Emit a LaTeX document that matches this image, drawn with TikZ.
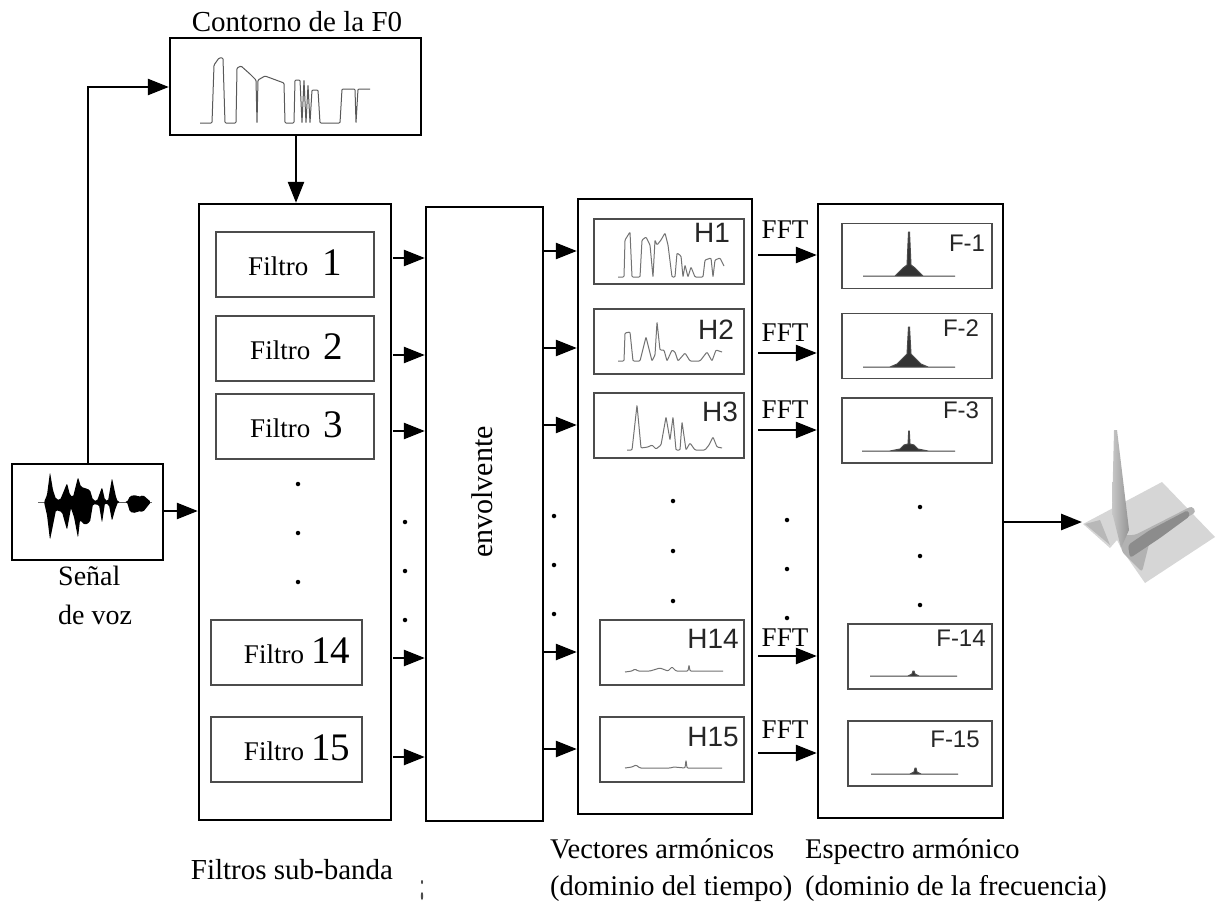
\documentclass[tikz,border=0pt]{standalone}
\usepackage{fontspec}
\setmainfont{Liberation Serif}
\newfontfamily\labelsans{Liberation Sans}
\usetikzlibrary{arrows.meta}
\newcommand{\bignum}[1]{{\fontsize{39}{39}\selectfont #1}}
\begin{document}
\begin{tikzpicture}[
        x=1pt, y=-1pt,
        block/.style={rectangle, draw, line width=2.4pt, inner sep=0pt, fill=white},
        inbox/.style={rectangle, draw=black!70, line width=1.9pt, inner sep=0pt, minimum height=65pt, font=\fontsize{27}{27}\selectfont},
        caption/.style={inner sep=0pt, font=\fontsize{29}{29}\selectfont},
        side/.style={inner sep=0pt, font=\labelsans\fontsize{28}{28}\selectfont, text=black!85},
        sidef/.style={inner sep=0pt, font=\labelsans\fontsize{24}{24}\selectfont, text=black!85},
        fft/.style={inner sep=0pt, font=\fontsize{27}{27}\selectfont},
        dotmark/.style={circle, fill=black, inner sep=0pt, minimum size=4.5pt},
        arrow/.style={-{Triangle[length=21pt,width=16pt]}, line width=2.6pt},
        signal/.style={draw=black!55, line width=1pt, rounded corners=1pt},
        spectrum/.style={draw=black!70, fill=black!80, line width=1pt}
    ]
        \useasboundingbox (0,0) rectangle (1217,907);

        \node[block, minimum width=251pt, minimum height=97pt] (contour) at (295.5,86.5) {};
        \node[block, minimum width=151pt, minimum height=96pt] (voice) at (87.5,512) {};
        \node[block, minimum width=192pt, minimum height=616pt] (bank) at (295,512) {};
        \node[block, minimum width=117pt, minimum height=614pt] (env) at (484.5,514) {};
        \node[block, minimum width=174pt, minimum height=615pt] (vectors) at (665,506.5) {};
        \node[block, minimum width=185pt, minimum height=614pt] (spectra) at (910.5,511) {};

        \node[caption] (contourlabel) at (297,22) {Contorno de la F0};
        \node[caption, align=left, anchor=north west, font=\fontsize{28}{39}\selectfont] (voicelabel) at (58,566) {Señal\\de voz};
        \node[caption, rotate=90, font=\fontsize{30}{30}\selectfont] (envlabel) at (482,492) {envolvente};
        \node[caption] (banklabel) at (292,870) {Filtros sub-banda};
        \node[caption, align=left, anchor=north west, font=\fontsize{28.5}{37}\selectfont] (vectorslabel) at (550,838) {Vectores armónicos\\(dominio del tiempo)};
        \node[caption, align=left, anchor=north west, font=\fontsize{28.5}{37}\selectfont] (spectralabel) at (805,838) {Espectro armónico\\(dominio de la frecuencia)};

        \node[inbox, minimum width=158pt] (f1) at (295,264.5) {\raisebox{3pt}{Filtro\hspace{14pt}\bignum{1}}};
        \node[inbox, minimum width=158pt] (f2) at (295,348.5) {\raisebox{3pt}{\hspace*{3pt}Filtro\hspace{13pt}\bignum{2}}};
        \node[inbox, minimum width=158pt] (f3) at (295,426.5) {\raisebox{3pt}{\hspace*{3pt}Filtro\hspace{13pt}\bignum{3}}};
        \node[inbox, minimum width=151pt] (f14) at (286.5,652.5) {\raisebox{3pt}{\hspace*{21pt}Filtro\hspace{7pt}\bignum{14}}};
        \node[inbox, minimum width=151pt] (f15) at (286.5,749.5) {\raisebox{3pt}{\hspace*{21pt}Filtro\hspace{7pt}\bignum{15}}};

        \node[inbox, minimum width=150pt] (h1) at (669,251.5) {};
        \node[inbox, minimum width=150pt] (h2) at (669,341.5) {};
        \node[inbox, minimum width=150pt] (h3) at (669,425.5) {};
        \node[inbox, minimum width=144pt] (h14) at (672,652.5) {};
        \node[inbox, minimum width=144pt] (h15) at (672,749.5) {};

        \node[inbox, minimum width=150pt] (s1) at (917,256) {};
        \node[inbox, minimum width=150pt] (s2) at (917,346) {};
        \node[inbox, minimum width=150pt] (s3) at (917,430.5) {};
        \node[inbox, minimum width=144pt] (s14) at (920,656.5) {};
        \node[inbox, minimum width=144pt] (s15) at (920,753.5) {};

        \node[side] (h1label) at (712,233) {H1};
        \node[side] (h2label) at (716,330) {H2};
        \node[side] (h3label) at (720,412) {H3};
        \node[side] (h14label) at (713,639) {H14};
        \node[side] (h15label) at (713,737) {H15};
        \node[sidef] (s1label) at (967,243) {F-1};
        \node[sidef] (s2label) at (961,328) {F-2};
        \node[sidef] (s3label) at (961,410) {F-3};
        \node[sidef] (s14label) at (961,638) {F-14};
        \node[sidef] (s15label) at (955,739) {F-15};

        \node[fft] (fft1) at (785,230) {FFT};
        \node[fft] (fft2) at (785,333) {FFT};
        \node[fft] (fft3) at (785,410) {FFT};
        \node[fft] (fft14) at (785,638) {FFT};
        \node[fft] (fft15) at (785,730) {FFT};

        \node[dotmark] (da1) at (298,484) {};
        \node[dotmark] (da2) at (298,533) {};
        \node[dotmark] (da3) at (298,582) {};
        \node[dotmark] (db1) at (405,522) {};
        \node[dotmark] (db2) at (405,571) {};
        \node[dotmark] (db3) at (405,620) {};
        \node[dotmark] (dc1) at (554,516) {};
        \node[dotmark] (dc2) at (554,565) {};
        \node[dotmark] (dc3) at (554,614) {};
        \node[dotmark] (dd1) at (673,501) {};
        \node[dotmark] (dd2) at (673,551) {};
        \node[dotmark] (dd3) at (673,601) {};
        \node[dotmark] (de1) at (787,520) {};
        \node[dotmark] (de2) at (787,569) {};
        \node[dotmark] (de3) at (787,618) {};
        \node[dotmark] (df1) at (920,507) {};
        \node[dotmark] (df2) at (920,556) {};
        \node[dotmark] (df3) at (920,605) {};

        \coordinate (voicetop) at (88,464);
        \coordinate (voiceturn) at (88,87);
        \coordinate (contourdrop) at (296,135);
        \coordinate (voiceout) at (163,511);
        \coordinate (surface) at (1082,522);
        \coordinate (spectraout) at (1003,522);
        \coordinate (b1) at (393,258);
        \coordinate (b2) at (393,355);
        \coordinate (b3) at (393,431);
        \coordinate (b14) at (393,658);
        \coordinate (b15) at (393,757);
        \coordinate (e1) at (543,251);
        \coordinate (e2) at (543,348);
        \coordinate (e3) at (543,425);
        \coordinate (e14) at (543,652);
        \coordinate (e15) at (543,749);
        \coordinate (v1) at (758,255);
        \coordinate (v2) at (758,353);
        \coordinate (v3) at (758,430);
        \coordinate (v14) at (758,656);
        \coordinate (v15) at (758,753);

        \draw[arrow] (voicetop) -- (voiceturn) -- (contour.west |- voiceturn);
        \draw[arrow] (contourdrop) -- (contourdrop |- bank.north);
        \draw[arrow] (voiceout) -- (voiceout -| bank.west);
        \draw[arrow] (spectraout) -- (surface);
        \draw[arrow] (b1) -- (b1 -| env.west);
        \draw[arrow] (b2) -- (b2 -| env.west);
        \draw[arrow] (b3) -- (b3 -| env.west);
        \draw[arrow] (b14) -- (b14 -| env.west);
        \draw[arrow] (b15) -- (b15 -| env.west);
        \draw[arrow] (e1) -- (e1 -| vectors.west);
        \draw[arrow] (e2) -- (e2 -| vectors.west);
        \draw[arrow] (e3) -- (e3 -| vectors.west);
        \draw[arrow] (e14) -- (e14 -| vectors.west);
        \draw[arrow] (e15) -- (e15 -| vectors.west);
        \draw[arrow] (v1) -- (v1 -| spectra.west);
        \draw[arrow] (v2) -- (v2 -| spectra.west);
        \draw[arrow] (v3) -- (v3 -| spectra.west);
        \draw[arrow] (v14) -- (v14 -| spectra.west);
        \draw[arrow] (v15) -- (v15 -| spectra.west);

        \draw[signal, black!65] (200,123) -- (212,123) -- (214,65) -- (219,58) -- (223,58) -- (225,123) -- (236,123) -- (237,68) -- (241,66) -- (250,74) -- (256,80) -- (257,123) -- (258,80) -- (265,76) -- (284,83) -- (285,123) -- (294,123) -- (295,80) -- (300,80) -- (302,123) -- (304,80) -- (306,123) -- (308,85) -- (310,123) -- (312,90) -- (318,90) -- (320,123) -- (340,123) -- (342,89) -- (355,89) -- (356,123) -- (358,89) -- (370,89);

        \draw[black!60, line width=0.8pt] (38,502) -- (152,502);
        \fill[black, rounded corners=1.5pt] (44,502) -- (47,495) -- (50,472) -- (53,490) -- (56,499) -- (60,500) -- (63,493) -- (67,483) -- (70,495) -- (73,497) -- (78,477) -- (81,487) -- (85,488) -- (90,490) -- (93,500) -- (97,501) -- (102,487) -- (105,500) -- (108,501) -- (112,478) -- (116,497) -- (118,502) -- (127,502) -- (130,496) -- (136,495) -- (139,497) -- (143,495) -- (151,502) -- (143,512) -- (138,511) -- (136,513) -- (130,512) -- (127,502) -- (118,502) -- (115,510) -- (112,521) -- (109,505) -- (105,503) -- (102,523) -- (99,505) -- (93,504) -- (90,522) -- (85,525) -- (80,520) -- (78,538) -- (74,517) -- (71,508) -- (67,530) -- (62,512) -- (56,510) -- (53,525) -- (50,540) -- (47,515) -- cycle;

        \draw[signal] (618,277) -- (624,277) -- (625,240) -- (630,232) -- (632,277) -- (640,277) -- (642,240) -- (646,237) -- (650,245) -- (653,277) -- (655,240) -- (657,245) -- (661,240) -- (665,233) -- (668,245) -- (672,277) -- (675,277) -- (677,253) -- (681,256) -- (683,277) -- (685,265) -- (688,277) -- (691,267) -- (695,277) -- (703,277) -- (705,260) -- (711,258) -- (713,277) -- (715,260) -- (720,258) -- (724,266);
        \draw[signal] (618,361) -- (624,361) -- (625,333) -- (630,332) -- (633,361) -- (640,361) -- (646,337) -- (652,361) -- (655,355) -- (657,322) -- (660,350) -- (664,350) -- (667,361) -- (672,350) -- (675,352) -- (678,361) -- (685,353) -- (690,361) -- (700,361) -- (707,352) -- (712,361) -- (716,350) -- (722,352);
        \draw[signal] (627,450) -- (632,450) -- (637,405) -- (641,448) -- (648,447) -- (652,445) -- (656,449) -- (661,445) -- (666,417) -- (670,440) -- (673,417) -- (676,450) -- (680,450) -- (682,422) -- (686,450) -- (690,443) -- (695,450) -- (705,450) -- (709,445) -- (713,437) -- (717,447) -- (722,448);
        \draw[signal] (625,672) -- (632,671) -- (635,669) -- (638,671) -- (650,671) -- (660,668) -- (668,671) -- (672,667) -- (676,671) -- (688,671) -- (689,665) -- (690,671) -- (723,671);
        \draw[signal] (625,768) -- (632,767) -- (636,765) -- (640,768) -- (670,768) -- (674,767) -- (685,768) -- (686,760) -- (687,768) -- (722,768);

        \draw[spectrum] (863,276) -- (895,276) -- (899,272) -- (903,268) -- (907,265) -- (908.5,232) -- (909.5,232) -- (911,265) -- (915,268) -- (919,272) -- (923,276) -- (955,276) -- cycle;
        \draw[spectrum] (863,367) -- (890,367) -- (897,364) -- (902,359) -- (907,354) -- (908.5,327) -- (909.5,327) -- (911,354) -- (916,359) -- (921,364) -- (928,367) -- (955,367) -- cycle;
        \draw[spectrum] (862,451) -- (890,451) -- (900,449) -- (904,445) -- (908,444) -- (908.7,431) -- (909.3,431) -- (910,444) -- (914,445) -- (918,449) -- (928,451) -- (955,451) -- cycle;
        \draw[spectrum] (870,676) -- (908,676) -- (912,674) -- (913,671) -- (914,671) -- (915,674) -- (919,676) -- (957,676) -- cycle;
        \draw[spectrum] (871,774) -- (910,774) -- (914,772) -- (915,768) -- (916,768) -- (917,772) -- (921,774) -- (958,774) -- cycle;

        \fill[black!16] (1083,524) -- (1162,482) -- (1215,537) -- (1145,583) -- (1122,550) -- (1117,540) -- (1110,548) -- cycle;
        \fill[black!30, rounded corners=3pt] (1192,506) -- (1196,512) -- (1150,540) -- (1142,572) -- (1122,552) -- (1120,535) -- (1135,535) -- cycle;
        \fill[black!45, rounded corners=3pt] (1188,510) -- (1150,530) -- (1128,545) -- (1130,558) -- (1160,538) -- (1190,516) -- cycle;
        \fill[black!28] (1085,524) -- (1100,520) -- (1110,545) -- cycle;
        \shade[left color=black!22, right color=black!42] (1114,430) -- (1117,430) -- (1129,530) -- (1121,548) -- (1112,512) -- cycle;

        \fill[black!70] (422,882) ellipse (1pt and 2pt);
        \fill[black!70] (422,896) ellipse (1.2pt and 4pt);
    \end{tikzpicture}
\end{document}
